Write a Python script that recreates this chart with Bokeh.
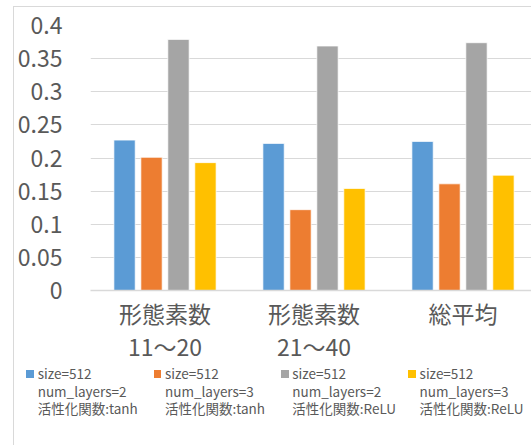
from bokeh.plotting import figure
from bokeh.layouts import column
from bokeh.models import FactorRange, FixedTicker, CustomJSTickFormatter, Div
from bokeh.transform import dodge
from bokeh.embed import file_html
from bokeh.resources import INLINE

categories = ["形態素数 11～20", "形態素数 21～40", "総平均"]
cat_labels = ["形態素数\n11～20", "形態素数\n21～40", "総平均\n "]
series_labels = [
    "size=512\nnum_layers=2\n活性化関数:tanh",
    "size=512\nnum_layers=3\n活性化関数:tanh",
    "size=512\nnum_layers=2\n活性化関数:ReLU",
    "size=512\nnum_layers=3\n活性化関数:ReLU",
]
s1 = [0.227, 0.222, 0.225]
s2 = [0.201, 0.122, 0.161]
s3 = [0.379, 0.369, 0.374]
s4 = [0.193, 0.154, 0.174]
y_ticks = [0, 0.05, 0.1, 0.15, 0.2, 0.25, 0.3, 0.35, 0.4]
y_tick_labels = ["0", "0.05", "0.1", "0.15", "0.2", "0.25", "0.3", "0.35", "0.4"]

colors = ["#5B9BD5", "#ED7D31", "#A5A5A5", "#FFC000"]
FONT = "Noto Sans CJK JP"
TXT = "#595959"

p = figure(x_range=FactorRange(*categories), y_range=(0, 0.4),
           frame_width=447, frame_height=265,
           min_border_left=67, min_border_right=4, min_border_top=18, min_border_bottom=69,
           output_backend="svg", toolbar_location=None)
p.outline_line_color = None

data = dict(cat=categories, s1=s1, s2=s2, s3=s3, s4=s4)
pitch = 0.181
for i, key in enumerate(["s1", "s2", "s3", "s4"]):
    p.vbar(x=dodge("cat", (i - 1.5) * pitch, range=p.x_range), top=key, width=0.143,
           source=data, fill_color=colors[i], line_color="white", line_width=1, line_alpha=0.7)

p.yaxis.ticker = FixedTicker(ticks=y_ticks)
p.yaxis.major_label_overrides = {t: l for t, l in zip(y_ticks, y_tick_labels)}
p.yaxis.axis_line_color = None
p.yaxis.major_tick_line_color = None
p.yaxis.minor_tick_line_color = None
p.yaxis.major_label_standoff = 22
p.yaxis.major_label_text_font = FONT
p.yaxis.major_label_text_font_size = "23px"
p.yaxis.major_label_text_color = TXT

p.ygrid.ticker = FixedTicker(ticks=y_ticks)
p.ygrid.grid_line_color = "#D9D9D9"
p.xgrid.grid_line_color = None

ax = p.xaxis[0]
ax.formatter = CustomJSTickFormatter(args=dict(cats=categories, labs=cat_labels),
                                     code="return labs[cats.indexOf(tick)];")
ax.axis_line_color = "#D9D9D9"
ax.axis_line_width = 1.5
ax.major_tick_line_color = None
ax.minor_tick_line_color = None
ax.major_label_standoff = -1
ax.major_label_text_font = FONT
ax.major_label_text_font_size = "23px"
ax.major_label_text_color = TXT
ax.major_label_text_line_height = 0.98

# legend as an HTML block below the plot
entry_x0 = 12.4
entry_pitch = 127.3
marker_size = 7.5
line_gap = 17.7

parts = []
for i, lab in enumerate(series_labels):
    x0 = entry_x0 + i * entry_pitch
    lines = "<br>".join(lab.split("\n"))
    parts.append(
        f'<div style="position:absolute;left:{x0:.1f}px;top:0px;white-space:nowrap;">'
        f'<span style="position:absolute;left:0px;top:{line_gap / 2 - marker_size / 2:.1f}px;'
        f'width:{marker_size}px;height:{marker_size}px;background:{colors[i]};"></span>'
        f'<div style="margin-left:11.3px;">{lines}</div></div>'
    )
html = (f'<div style="position:relative;width:517px;height:80px;font-family:\'{FONT}\';'
        f'font-size:13.5px;color:{TXT};line-height:{line_gap}px;">' + "".join(parts) + "</div>")
leg = Div(text=html, width=518, height=80, margin=0)

layout = column(p, leg, spacing=0)
layout.margin = (6, 0, 0, 13)
layout.styles = {"border-left": "1px solid #D9D9D9", "border-top": "1px solid #D9D9D9"}

open("out.html", "w").write(file_html(layout, INLINE))
